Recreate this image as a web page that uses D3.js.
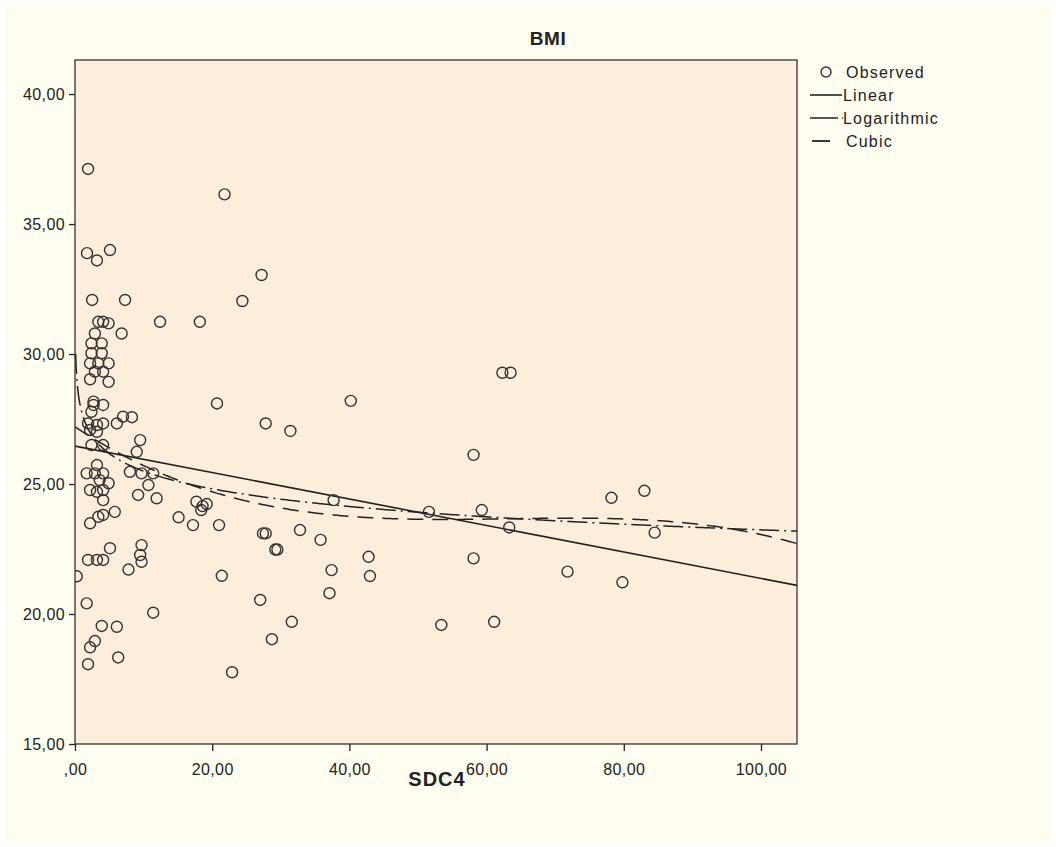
<!DOCTYPE html>
<html lang="en">
<head>
<meta charset="UTF-8">
<title>BMI</title>
<script src="https://cdn.jsdelivr.net/npm/d3@7"></script>
<style>
  body { margin: 0; background: #ffffff; }
  text { font-family: Arial, "Liberation Sans", sans-serif; fill: #222; }
</style>
</head>
<body>
<script>

// observed points (SDC4, BMI)
var sdc4 = [1.9, 1.75, 3.2, 5.1, 2.5, 7.3, 12.4, 3.4, 4.1, 4.9, 6.8, 2.9,
  2.4, 3.9, 2.4, 3.9, 2.2, 3.4, 4.9, 2.9, 4.1, 2.2, 4.9, 2.7, 2.7, 4.1,
  2.4, 7.0, 8.3, 6.1, 1.9, 4.1, 3.2, 2.2, 3.2, 9.5, 9.0, 2.4, 4.1, 3.2,
  1.7, 2.9, 4.1, 3.6, 4.9, 2.2, 3.2, 4.1, 4.1, 8.0, 9.7, 11.4, 10.7, 9.2,
  11.9, 5.8, 4.1, 3.4, 2.2, 9.7, 9.5, 9.7, 5.1, 4.1, 3.2, 1.9, 7.8, 0.25,
  1.7, 11.4, 3.9, 6.1, 2.9, 2.2, 6.3, 1.9,
  21.8, 27.2, 24.4, 18.2, 20.7, 40.2, 27.8, 31.4,
  17.7, 18.4, 19.2, 18.6, 15.1, 17.2, 21.0, 27.4, 27.8, 29.2, 29.5, 32.8,
  35.8, 37.7, 37.4, 37.1, 21.4, 27.0, 31.6, 28.7, 22.9,
  62.3, 63.5, 58.1, 51.6, 59.3, 63.3, 78.2, 83.0, 42.8, 43.0, 58.1, 71.8,
  79.8, 53.4, 61.1, 84.5];
var bmi = [37.12, 33.88, 33.6, 34.0, 32.08, 32.08, 31.24, 31.24, 31.24, 31.18, 30.79, 30.79,
  30.41, 30.41, 30.03, 30.03, 29.64, 29.64, 29.64, 29.32, 29.32, 29.03, 28.93, 28.17, 28.04, 28.04,
  27.78, 27.59, 27.57, 27.33, 27.33, 27.33, 27.27, 27.08, 27.01, 26.69, 26.24, 26.5, 26.5, 25.73,
  25.41, 25.41, 25.41, 25.15, 25.03, 24.77, 24.7, 24.77, 24.38, 25.47, 25.41, 25.41, 24.96, 24.58,
  24.45, 23.93, 23.81, 23.74, 23.49, 22.65, 22.27, 22.01, 22.53, 22.08, 22.08, 22.08, 21.71, 21.45,
  20.41, 20.05, 19.54, 19.51, 18.96, 18.72, 18.33, 18.07,
  36.14, 33.04, 32.04, 31.24, 28.1, 28.2, 27.33, 27.04,
  24.32, 24.0, 24.23, 24.15, 23.72, 23.42, 23.42, 23.1, 23.1, 22.48, 22.48, 23.23,
  22.85, 24.38, 21.69, 20.8, 21.47, 20.54, 19.7, 19.03, 17.76,
  29.28, 29.28, 26.12, 23.93, 24.0, 23.33, 24.47, 24.74, 22.2, 21.46, 22.14, 21.63,
  21.22, 19.58, 19.7, 23.13];

// fitted models, estimated from the drawn curves
var linearCoef = [26.46, -0.0509];                       // b0 + b1*x
var logCoef = [27.75, -0.98];                            // b0 + b1*ln(x)
var cubicCoef = [27.2, -0.17595, 0.0028481, -0.000015029]; // b0 + b1*x + b2*x^2 + b3*x^3

var xTicks = [0, 20, 40, 60, 80, 100];
var yTicks = [15, 20, 25, 30, 35, 40];
var xDomain = [0, 105.25];
var yDomain = [15, 41.31];

var legendLabels = ["Observed", "Linear", "Logarithmic", "Cubic"];

var width = 1056, height = 847;
var plot = {left: 75, right: 797, top: 60, bottom: 744};

var svg = d3.select("body").append("svg")
    .attr("width", width)
    .attr("height", height);

// chart background
svg.append("rect")
    .attr("x", 6).attr("y", 6)
    .attr("width", width - 12).attr("height", height - 12)
    .attr("fill", "#fffef0");

var x = d3.scaleLinear().domain(xDomain).range([plot.left, plot.right]);
var y = d3.scaleLinear().domain(yDomain).range([plot.bottom, plot.top]);

svg.append("rect")
    .attr("x", plot.left).attr("y", plot.top)
    .attr("width", plot.right - plot.left).attr("height", plot.bottom - plot.top)
    .attr("fill", "#fdeedc");

svg.append("clipPath").attr("id", "clip")
  .append("rect")
    .attr("x", plot.left).attr("y", plot.top)
    .attr("width", plot.right - plot.left).attr("height", plot.bottom - plot.top);

var g = svg.append("g").attr("clip-path", "url(#clip)");

function fmt(v) {
    var s = d3.format(".2f")(v).replace(".", ",");
    return s === "0,00" ? ",00" : s;
}

// fit curves
var line = d3.line().x(function(d) { return x(d[0]); }).y(function(d) { return y(d[1]); });

var linPts = xDomain.map(function(v) { return [v, linearCoef[0] + linearCoef[1] * v]; });
var logPts = d3.range(0.1, 1, 0.01).concat(d3.range(1, 105.3, 0.25)).map(function(v) {
    return [v, logCoef[0] + logCoef[1] * Math.log(v)];
});
var cubPts = d3.range(0, 105.3, 0.25).map(function(v) {
    return [v, cubicCoef[0] + cubicCoef[1] * v + cubicCoef[2] * v * v + cubicCoef[3] * v * v * v];
});

g.append("path").datum(cubPts)
    .attr("d", line).attr("fill", "none")
    .attr("stroke", "#222").attr("stroke-width", 1.5)
    .attr("stroke-dasharray", "16,9");

g.append("path").datum(logPts)
    .attr("d", line).attr("fill", "none")
    .attr("stroke", "#222").attr("stroke-width", 1.5)
    .attr("stroke-dasharray", "20,5,2,5");

g.append("path").datum(linPts)
    .attr("d", line).attr("fill", "none")
    .attr("stroke", "#222").attr("stroke-width", 1.6);

// observed points
g.selectAll("circle.obs")
    .data(d3.range(sdc4.length))
  .enter().append("circle")
    .attr("class", "obs")
    .attr("cx", function(i) { return x(sdc4[i]); })
    .attr("cy", function(i) { return y(bmi[i]); })
    .attr("r", 5.5)
    .attr("fill", "none")
    .attr("stroke", "#333")
    .attr("stroke-width", 1.4);

// axes
var yAxis = svg.append("g")
    .attr("transform", "translate(" + plot.left + ",0)")
    .call(d3.axisLeft(y).tickValues(yTicks).tickSize(6).tickSizeOuter(0).tickFormat(fmt));

var xAxis = svg.append("g")
    .attr("transform", "translate(0," + plot.bottom + ")")
    .call(d3.axisBottom(x).tickValues(xTicks).tickSize(7).tickSizeOuter(0).tickFormat(fmt));

[yAxis, xAxis].forEach(function(ax) {
    ax.selectAll(".domain").remove();
    ax.selectAll("line").attr("stroke", "#222").attr("stroke-width", 1.3);
    ax.selectAll("text")
        .style("font-family", "Arial, 'Liberation Sans', sans-serif")
        .style("font-size", "16px")
        .style("letter-spacing", "0.4px")
        .attr("fill", "#222");
});
yAxis.selectAll("text").attr("x", -10).attr("dy", "0.35em");
xAxis.selectAll("text").attr("y", 20);

// plot frame
svg.append("rect")
    .attr("x", plot.left).attr("y", plot.top)
    .attr("width", plot.right - plot.left).attr("height", plot.bottom - plot.top)
    .attr("fill", "none")
    .attr("stroke", "#333").attr("stroke-width", 1.3);

// titles
svg.append("text")
    .attr("x", 548).attr("y", 45)
    .attr("text-anchor", "middle")
    .style("font-size", "19px").style("font-weight", "bold")
    .style("letter-spacing", "0.5px")
    .text("BMI");

svg.append("text")
    .attr("x", 437).attr("y", 786)
    .attr("text-anchor", "middle")
    .style("font-size", "20px").style("font-weight", "bold")
    .style("letter-spacing", "1px")
    .text("SDC4");

// legend
var lg = svg.append("g").attr("transform", "translate(810,72)");
var rowH = 23;

lg.append("circle").attr("cx", 16).attr("cy", 0).attr("r", 5)
    .attr("fill", "none").attr("stroke", "#333").attr("stroke-width", 1.4);
lg.append("line").attr("x1", 0).attr("x2", 32).attr("y1", rowH).attr("y2", rowH)
    .attr("stroke", "#222").attr("stroke-width", 1.6);
lg.append("line").attr("x1", 0).attr("x2", 34).attr("y1", rowH * 2).attr("y2", rowH * 2)
    .attr("stroke", "#222").attr("stroke-width", 1.6).attr("stroke-dasharray", "28,4,1,4");
lg.append("line").attr("x1", 2).attr("x2", 20).attr("y1", rowH * 3).attr("y2", rowH * 3)
    .attr("stroke", "#222").attr("stroke-width", 1.8);

lg.selectAll("text.lab")
    .data(legendLabels)
  .enter().append("text")
    .attr("class", "lab")
    .attr("x", function(d, i) { return i === 0 || i === 3 ? 36 : 33; })
    .attr("y", function(d, i) { return i * rowH; })
    .attr("dy", "0.35em")
    .style("font-size", "16px")
    .style("letter-spacing", "1.2px")
    .text(function(d) { return d; });

</script>
</body>
</html>
